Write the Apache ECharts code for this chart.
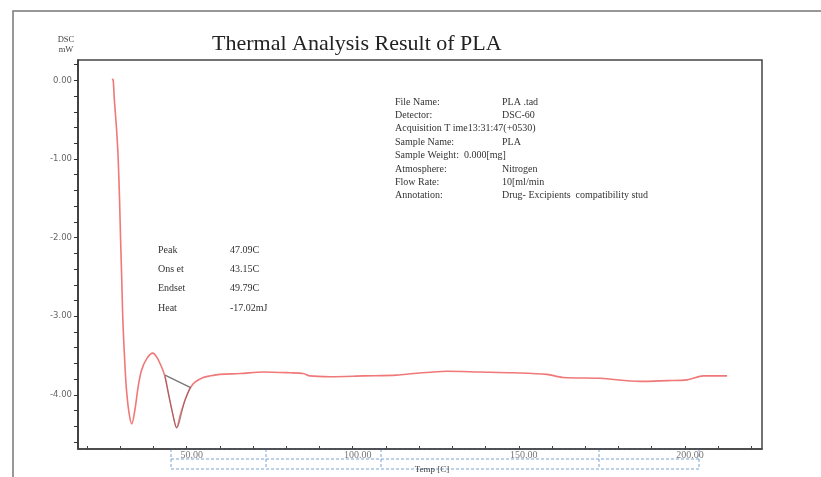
<!DOCTYPE html>
<html>
<head>
<meta charset="utf-8">
<script src="https://cdn.jsdelivr.net/npm/echarts@6/dist/echarts.min.js"></script>
<style>
  html, body { margin: 0; padding: 0; background: #fff; }
  #chart { width: 821px; height: 477px; }
</style>
</head>
<body>
<div id="chart"></div>
<script>
// DSC curve of PLA
const tempC = [27.6, 27.9, 28.25, 28.7, 29.1, 29.4, 29.8, 30.1, 30.45, 30.8, 31.4, 31.9, 32.7, 33.5,
  34.4, 35.4, 36.4, 38.0, 39.8, 41.0, 42.5, 43.5, 44.5, 45.8, 47.0, 48.2, 49.5, 51.0, 52.5, 55.0, 57.0,
  60.0, 66.1, 73.1, 81.1, 85.1, 87.1, 93.2, 103.2, 113.3, 118.3, 128.3, 138.3, 148.4, 158.4, 163.4,
  174.5, 186.5, 194.6, 200.6, 205.6, 212.7];
const dscMw = [0.02, 0.00, -0.25, -0.50, -0.75, -1.00, -1.50, -2.00, -2.50, -3.05, -3.60, -3.94, -4.24, -4.37,
  -4.20, -3.90, -3.69, -3.54, -3.47, -3.52, -3.65, -3.77, -3.98, -4.24, -4.42, -4.24, -4.07, -3.92, -3.84, -3.78, -3.76,
  -3.74, -3.73, -3.71, -3.72, -3.73, -3.76, -3.77, -3.76, -3.75, -3.73, -3.70, -3.71, -3.72, -3.74, -3.78,
  -3.79, -3.83, -3.82, -3.81, -3.76, -3.76];

// onset -> endset baseline and the traced peak sides
const baseT = [43.5, 51.2];
const baseV = [-3.75, -3.91];
const traceT = [43.5, 45.8, 47.0, 49.5, 51.2];
const traceV = [-3.77, -4.24, -4.42, -4.07, -3.90];

const yLabelValues = [0, -1, -2, -3, -4];
const yTickValues = [0.2, 0, -0.2, -0.4, -0.6, -0.8, -1, -1.2, -1.4, -1.6, -1.8, -2, -2.2, -2.4, -2.6, -2.8,
  -3, -3.2, -3.4, -3.6, -3.8, -4, -4.2, -4.4, -4.6];
const xLabelValues = [50, 100, 150, 200];
const xTickValues = [20, 30, 40, 50, 60, 70, 80, 90, 100, 110, 120, 130, 140, 150, 160, 170, 180, 190, 200, 210, 220];

const infoRows = [
  ['File Name:', 'PLA .tad'],
  ['Detector:', 'DSC-60'],
  ['Acquisition T ime13:31:47(+0530)', ''],
  ['Sample Name:', 'PLA'],
  ['Sample Weight:  0.000[mg]', ''],
  ['Atmosphere:', 'Nitrogen'],
  ['Flow Rate:', '10[ml/min'],
  ['Annotation:', 'Drug- Excipients  compatibility stud']
];
const peakRows = [
  ['Peak', '47.09C'],
  ['Ons et', '43.15C'],
  ['Endset', '49.79C'],
  ['Heat', '-17.02mJ']
];

const serif = 'Liberation Serif';
const pair = (xs, ys) => xs.map((x, i) => [x, ys[i]]);

const textRows = (rows, x1, x2, y0, step) => {
  const out = [];
  rows.forEach((r, i) => {
    out.push({ type: 'text', left: x1, top: y0 + i * step,
      style: { text: r[0], font: '10px ' + serif, fill: '#333' } });
    if (r[1]) {
      out.push({ type: 'text', left: x2, top: y0 + i * step,
        style: { text: r[1], font: '10px ' + serif, fill: '#333' } });
    }
  });
  return out;
};

const dash = { stroke: '#7aa3d6', lineWidth: 1, lineDash: [3, 2] };
const hline = (x1, x2, y) => ({ type: 'line', shape: { x1, y1: y, x2, y2: y }, style: dash, silent: true });
const vline = (x, y1, y2) => ({ type: 'line', shape: { x1: x, y1, x2: x, y2 }, style: dash, silent: true });

const chart = echarts.init(document.getElementById('chart'));
chart.setOption({
  animation: false,
  title: {
    text: 'Thermal Analysis Result of PLA',
    left: 207, top: 28,
    textStyle: { fontFamily: serif, fontSize: 22, fontWeight: 'normal', color: '#222' }
  },
  grid: {
    left: 78, right: 59, top: 60, bottom: 28,
    show: true, borderColor: '#444', borderWidth: 1.5,
    outerBoundsMode: 'none'
  },
  xAxis: {
    type: 'value', min: 17.3, max: 223.2,
    name: 'Temp [C]', nameLocation: 'middle', nameGap: 6,
    nameTextStyle: { fontFamily: serif, fontSize: 9, color: '#444', padding: [0, 0, 0, 24] },
    axisLine: { onZero: false, lineStyle: { color: '#444', width: 1.5 } },
    axisTick: { show: true, inside: true, length: 3, customValues: xTickValues, lineStyle: { color: '#444' } },
    axisLabel: { customValues: xLabelValues, margin: 1, fontFamily: serif, fontSize: 10, color: '#777',
      formatter: v => v.toFixed(2), padding: [0, 0, 0, 10] },
    splitLine: { show: false }
  },
  yAxis: {
    type: 'value', min: -4.69, max: 0.26,
    name: 'DSC\nmW', nameLocation: 'end', nameGap: 5,
    nameTextStyle: { fontFamily: serif, fontSize: 8.5, color: '#444', align: 'center', padding: [0, 24, 0, 0], lineHeight: 10 },
    axisLine: { show: true, onZero: false, lineStyle: { color: '#333', width: 1.5 } },
    axisTick: { show: true, length: 4, customValues: yTickValues, lineStyle: { color: '#333' } },
    axisLabel: { customValues: yLabelValues, margin: 6, fontFamily: 'DejaVu Sans', fontSize: 8.5, color: '#666',
      formatter: v => v.toFixed(2) },
    splitLine: { show: false }
  },
  series: [
    {
      name: 'DSC', type: 'line', data: pair(tempC, dscMw),
      showSymbol: false, smooth: 0.3,
      lineStyle: { color: '#f07878', width: 1.6 }
    },
    {
      name: 'trace', type: 'line', data: pair(traceT, traceV),
      showSymbol: false, smooth: 0.3,
      lineStyle: { color: '#555', width: 1, opacity: 0.6 }
    },
    {
      name: 'baseline', type: 'line', data: pair(baseT, baseV),
      showSymbol: false,
      lineStyle: { color: '#777', width: 1.3 }
    }
  ],
  graphic: [
    // scanned page frame
    { type: 'polyline', shape: { points: [[13, 477], [13, 11], [821, 11]] },
      style: { stroke: '#777', lineWidth: 1.5, fill: null }, silent: true },
    // dashed axis-caption box
    hline(171, 699, 449), hline(171, 699, 459), hline(171, 699, 469),
    vline(171, 449, 469), vline(266, 449, 469), vline(381, 449, 469), vline(599, 449, 469), vline(699, 449, 469),
    ...textRows(infoRows, 395, 502, 97, 13.4),
    ...textRows(peakRows, 158, 230, 245, 19.4)
  ]
});
</script>
</body>
</html>
